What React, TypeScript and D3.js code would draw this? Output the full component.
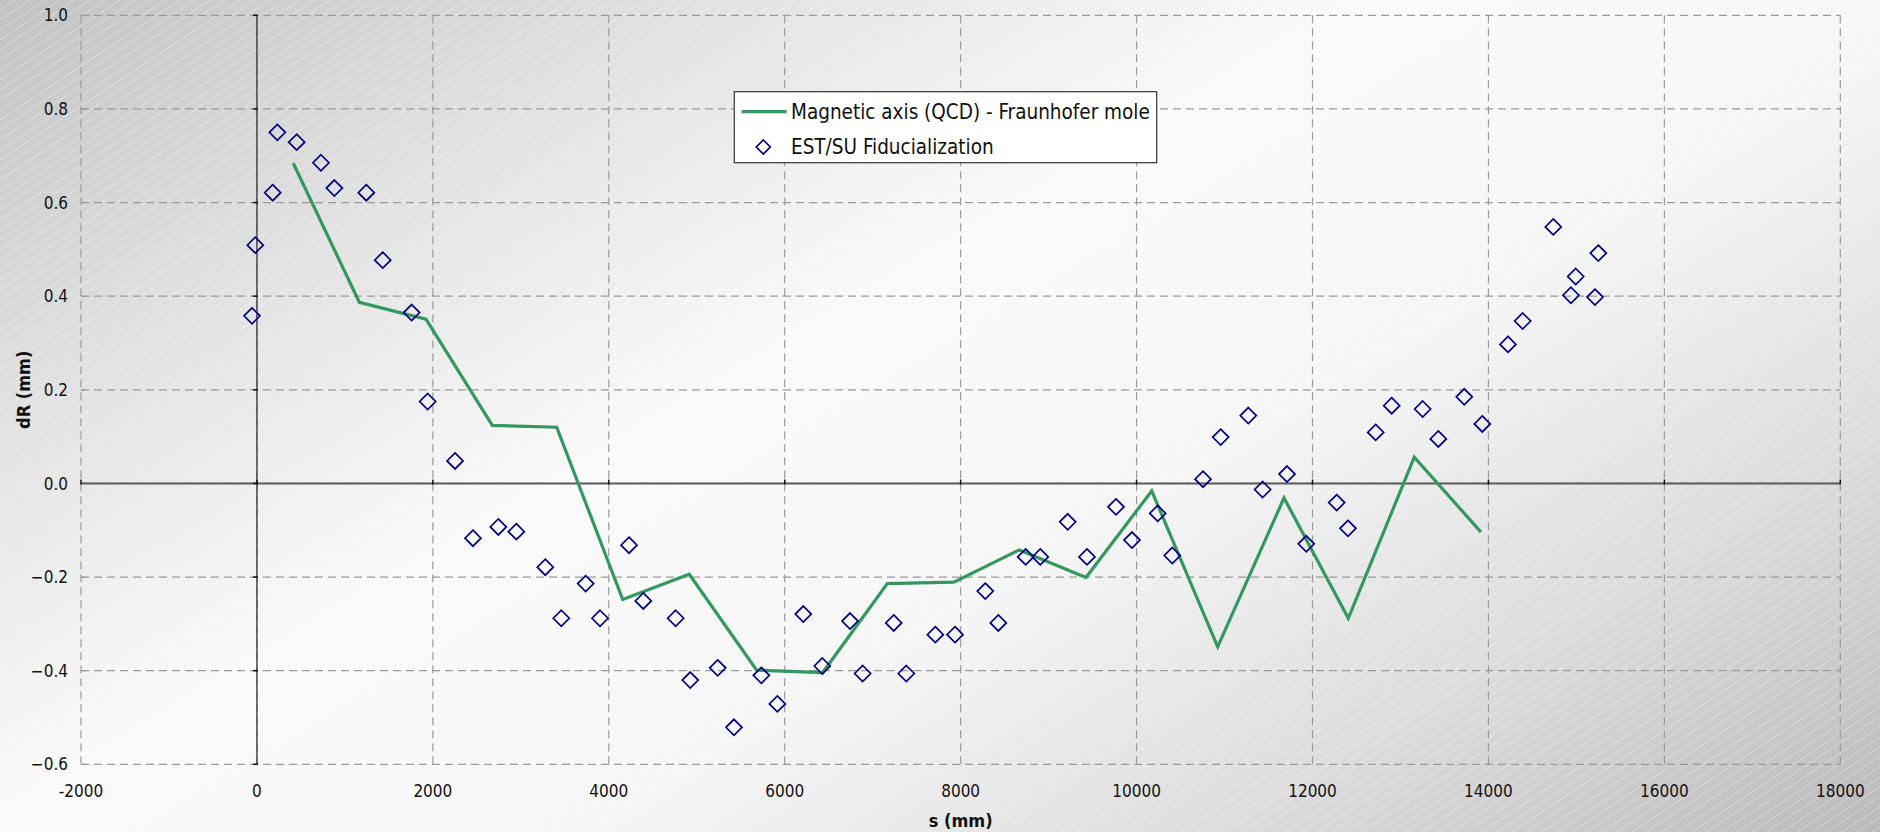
import React from "react";
import * as d3 from "d3";

// ---- data ----
const lineS = [413, 1164, 1922, 2676, 3408, 4158, 4915, 5681, 6432, 7166, 7924, 8667, 9425, 10172, 10922, 11676, 12407, 13157, 13915];
const lineDR = [0.684, 0.387, 0.351, 0.124, 0.120, -0.248, -0.194, -0.399, -0.404, -0.214, -0.211, -0.142, -0.201, -0.016, -0.349, -0.031, -0.288, 0.056, -0.104];

const fidS = [-56, -19, 179, 232, 452, 728, 880, 1243, 1430, 1759, 1941, 2252, 2456, 2744, 2949, 3278, 3460, 3737, 3900, 4230, 4392, 4760, 4926, 5238, 5423, 5734, 5916, 6211, 6427, 6742, 6886, 7239, 7382, 7712, 7936, 8280, 8428, 8739, 8905, 9217, 9436, 9766, 9948, 10240, 10406, 10755, 10956, 11270, 11433, 11710, 11929, 12275, 12403, 12718, 12900, 13252, 13430, 13725, 13930, 14222, 14389, 14737, 14938, 14992, 15211, 15249];
const fidDR = [0.358, 0.509, 0.621, 0.750, 0.729, 0.685, 0.631, 0.621, 0.477, 0.365, 0.175, 0.048, -0.117, -0.093, -0.103, -0.179, -0.288, -0.214, -0.288, -0.132, -0.251, -0.288, -0.420, -0.394, -0.521, -0.410, -0.471, -0.279, -0.390, -0.294, -0.406, -0.298, -0.406, -0.323, -0.323, -0.230, -0.298, -0.157, -0.157, -0.082, -0.157, -0.050, -0.121, -0.064, -0.154, 0.009, 0.099, 0.145, -0.013, 0.020, -0.129, -0.041, -0.096, 0.109, 0.166, 0.159, 0.095, 0.185, 0.127, 0.297, 0.347, 0.548, 0.402, 0.442, 0.398, 0.492];

const xTicks = [-2000, 0, 2000, 4000, 6000, 8000, 10000, 12000, 14000, 16000, 18000];
const yTicks = [-0.6, -0.4, -0.2, 0.0, 0.2, 0.4, 0.6, 0.8, 1.0];

const seriesNames = ["Magnetic axis (QCD) - Fraunhofer mole", "EST/SU Fiducialization"];
const xTitle = "s (mm)";
const yTitle = "dR (mm)";

const W = 1880;
const H = 832;
const FONT = "'DejaVu Sans Condensed', 'DejaVu Sans', sans-serif";
const GREEN = "#32985f";
const NAVY = "#000080";

export default function App() {
  const x = d3.scaleLinear().domain([-2000, 18000]).range([81, 1840.3]);
  const y = d3.scaleLinear().domain([-0.6, 1.0]).range([764.3, 15.3]);

  const linePts: [number, number][] = lineS.map((s, i) => [s, lineDR[i]]);
  const lineGen = d3.line<[number, number]>().x((d) => x(d[0])).y((d) => y(d[1]));
  const fidPts = fidS.map((s, i) => [s, fidDR[i]]);

  const diamond = (r: number) => `M0,${-r}L${r},0L0,${r}L${-r},0Z`;

  const [x0, x1] = x.range();
  const [yb, yt] = y.range();

  return (
    <svg
      width={W}
      height={H}
      style={{ position: "absolute", left: 0, top: 0, fontFamily: FONT, fontStretch: "condensed" }}
    >
      <defs>
        <linearGradient id="bg" gradientUnits="userSpaceOnUse" x1="0" y1="0" x2="863" y2="1439">
          <stop offset="0" stopColor="#c2c2c2" />
          <stop offset="0.22" stopColor="#e2e2e2" />
          <stop offset="0.42" stopColor="#fafafa" />
          <stop offset="0.6" stopColor="#f6f6f6" />
          <stop offset="0.8" stopColor="#dcdcdc" />
          <stop offset="1" stopColor="#bababa" />
        </linearGradient>
        <pattern id="hatch" patternUnits="userSpaceOnUse" width="15" height="10">
          <line x1="-1.5" y1="11" x2="16.5" y2="-1" stroke="#ffffff" strokeWidth="0.8" strokeOpacity="0.45" />
        </pattern>
      </defs>
      <rect x={0} y={0} width={W} height={H} fill="url(#bg)" />
      <rect x={0} y={0} width={W} height={H} fill="url(#hatch)" />

      {/* grid */}
      <g stroke="#9a9a9a" strokeWidth={1.2} strokeDasharray="8,5" fill="none">
        {yTicks.map((t) => (
          <line key={"gy" + t} x1={x0} x2={x1} y1={y(t)} y2={y(t)} />
        ))}
        {xTicks.map((t) => (
          <line key={"gx" + t} x1={x(t)} x2={x(t)} y1={yt} y2={yb} />
        ))}
      </g>
      {/* left border small ticks */}
      <g stroke="#9a9a9a" strokeWidth={1.2}>
        {yTicks.map((t) => (
          <line key={"lt" + t} x1={x0} x2={x0 + 4} y1={y(t)} y2={y(t)} />
        ))}
      </g>

      {/* axes through zero */}
      <line x1={x0} x2={x1} y1={y(0)} y2={y(0)} stroke="#5a5a5a" strokeWidth={2} />
      <line x1={x(0)} x2={x(0)} y1={yt} y2={yb} stroke="#4a4a4a" strokeWidth={1.5} />
      <g stroke="#111" strokeWidth={1.5}>
        {xTicks.map((t) => (
          <line key={"xt" + t} x1={x(t)} x2={x(t)} y1={y(0) - 4} y2={y(0) + 1} />
        ))}
        {yTicks.map((t) => (
          <line key={"yt" + t} x1={x(0) - 4} x2={x(0) + 1} y1={y(t)} y2={y(t)} />
        ))}
      </g>

      {/* tick labels */}
      <g fontSize={17} fill="#111">
        {yTicks.map((t) => (
          <text key={"yl" + t} x={68} y={y(t)} dy="0.36em" textAnchor="end">
            {d3.format(".1f")(t)}
          </text>
        ))}
        {xTicks.map((t) => (
          <text key={"xl" + t} x={x(t)} y={yb + 33} textAnchor="middle">
            {String(t)}
          </text>
        ))}
      </g>

      {/* axis titles */}
      <text x={(x0 + x1) / 2} y={826.5} textAnchor="middle" fontSize={18} fontWeight="bold" fill="#111">
        {xTitle}
      </text>
      <text
        transform={`translate(30,${(yt + yb) / 2}) rotate(-90)`}
        textAnchor="middle"
        fontSize={18}
        fontWeight="bold"
        fill="#111"
      >
        {yTitle}
      </text>

      {/* series */}
      <path d={lineGen(linePts) || ""} fill="none" stroke={GREEN} strokeWidth={3.2} strokeLinejoin="miter" />
      <g fill="none" stroke={NAVY} strokeWidth={1.7}>
        {fidPts.map((d, i) => (
          <path key={"f" + i} d={diamond(8)} transform={`translate(${x(d[0])},${y(d[1])})`} />
        ))}
      </g>

      {/* legend */}
      <g>
        <rect x={734.3} y={91.7} width={422.4} height={71} fill="#ffffff" stroke="#333" strokeWidth={1.2} />
        <line x1={741.7} x2={786.7} y1={111.7} y2={111.7} stroke={GREEN} strokeWidth={3.2} />
        <path d={diamond(7)} transform="translate(763.3,147)" fill="none" stroke={NAVY} strokeWidth={1.7} />
        <text x={791} y={119} fontSize={20.5} fill="#111">
          {seriesNames[0]}
        </text>
        <text x={791} y={154.3} fontSize={20.5} fill="#111">
          {seriesNames[1]}
        </text>
      </g>
    </svg>
  );
}
